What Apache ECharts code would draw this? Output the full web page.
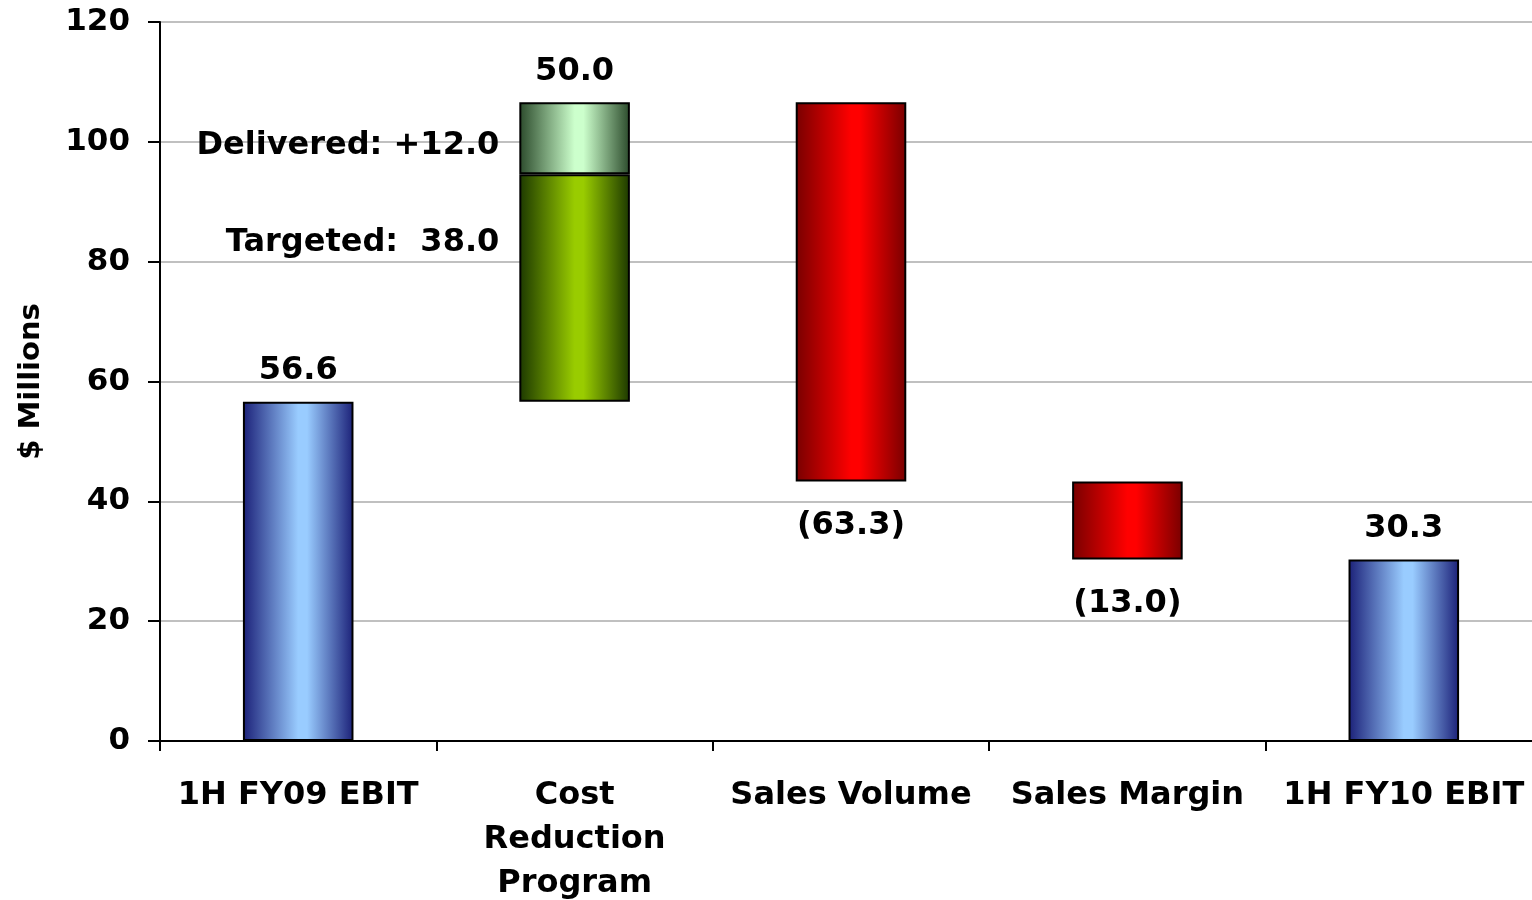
<!DOCTYPE html>
<html>
<head>
<meta charset="utf-8">
<script src="https://cdn.jsdelivr.net/npm/echarts@6/dist/echarts.min.js"></script>
<style>html,body{margin:0;padding:0;background:#fff}#c{width:1532px;height:900px}</style>
</head>
<body>
<div id="c"></div>
<script>
// ---- data ----
var categories = ['1H FY09 EBIT', 'Cost\nReduction\nProgram', 'Sales Volume', 'Sales Margin', '1H FY10 EBIT'];
var startEbit = 56.6;
var targeted = 38.0;
var delivered = 12.0;
var salesVolume = -63.3;
var salesMargin = -13.0;
var endEbit = 30.3;
var yTicks = [0, 20, 40, 60, 80, 100, 120];

// ---- derived stacks (waterfall) ----
var afterCost = startEbit + targeted + delivered;
var afterVolume = afterCost + salesVolume;
var afterMargin = afterVolume + salesMargin;
var baseData = [0, startEbit, afterVolume, afterMargin, 0];
var totalData = [startEbit, '-', '-', '-', endEbit];
var targetData = ['-', targeted, '-', '-', '-'];
var deliverData = ['-', delivered, '-', '-', '-'];
var capData = ['-', 0, '-', '-', '-'];
var decData = ['-', '-', -salesVolume, -salesMargin, '-'];

function grad(edge, mid) {
  return new echarts.graphic.LinearGradient(0, 0, 1, 0, [
    {offset: 0, color: edge}, {offset: 0.5, color: mid}, {offset: 0.58, color: mid}, {offset: 1, color: edge}
  ]);
}
var FONT = 'DejaVu Sans';
var lbl = {fontFamily: FONT, fontWeight: 'bold', fontSize: 32, color: '#000'};
var border = {borderColor: '#000', borderWidth: 2};

var chart = echarts.init(document.getElementById('c'));
chart.setOption({
  animation: false,
  grid: {left: 160, right: -10, top: 22, bottom: 159, containLabel: false, outerBoundsMode: 'none'},
  xAxis: {
    type: 'category', data: categories,
    axisLine: {lineStyle: {color: '#000', width: 2}},
    axisTick: {show: true, length: 10, lineStyle: {color: '#000', width: 2}},
    axisLabel: Object.assign({margin: 33, lineHeight: 44, interval: 0}, lbl)
  },
  yAxis: {
    type: 'value', min: yTicks[0], max: yTicks[yTicks.length - 1], interval: 20,
    name: '$ Millions', nameLocation: 'middle', nameGap: 114, nameRotate: 90,
    nameTextStyle: {fontFamily: FONT, fontWeight: 'bold', fontSize: 29, color: '#000'},
    axisLine: {show: true, lineStyle: {color: '#000', width: 2}},
    axisTick: {show: true, length: 12, lineStyle: {color: '#000', width: 2}},
    axisLabel: Object.assign({margin: 30}, lbl, {fontSize: 31}),
    splitLine: {lineStyle: {color: '#c0c0c0', width: 2}}
  },
  series: [
    {type: 'bar', stack: 'w', data: baseData, barWidth: '40%', silent: true,
     itemStyle: {color: 'rgba(0,0,0,0)', borderWidth: 0}},
    {type: 'bar', stack: 'w', data: totalData, barWidth: '40%',
     itemStyle: Object.assign({color: grad('#1b2078', '#99ccff')}, border),
     label: Object.assign({show: true, position: 'top', distance: 15,
       formatter: function (p) { return p.value.toFixed(1); }}, lbl)},
    {type: 'bar', stack: 'w', data: targetData, barWidth: '40%',
     itemStyle: Object.assign({color: grad('#1c3800', '#99cc00')}, border),
     label: Object.assign({show: true, position: 'left', distance: 20, offset: [0, -45],
       formatter: function (p) { return 'Targeted:  ' + p.value.toFixed(1); }}, lbl)},
    {type: 'bar', stack: 'w', data: deliverData, barWidth: '40%',
     itemStyle: Object.assign({color: grad('#2b4a2b', '#ccffcc')}, border),
     label: Object.assign({show: true, position: 'left', distance: 20, offset: [0, 7],
       formatter: function (p) { return 'Delivered: +' + p.value.toFixed(1); }}, lbl)},
    {type: 'bar', stack: 'w', data: capData, barWidth: '40%', silent: true,
     itemStyle: {color: 'rgba(0,0,0,0)', borderWidth: 0},
     label: Object.assign({show: true, position: 'top', distance: 15,
       formatter: function () { return (targeted + delivered).toFixed(1); }}, lbl)},
    {type: 'bar', stack: 'w', data: decData, barWidth: '40%',
     itemStyle: Object.assign({color: grad('#780000', '#ff0000')}, border),
     label: Object.assign({show: true, position: 'bottom', distance: 28,
       formatter: function (p) { return '(' + p.value.toFixed(1) + ')'; }}, lbl)}
  ]
});
</script>
</body>
</html>
